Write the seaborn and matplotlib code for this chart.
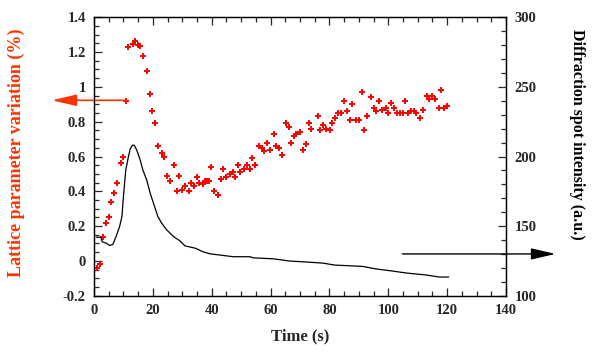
import matplotlib.pyplot as plt
import matplotlib.ticker as mticker
import pandas as pd
import seaborn as sns

# lattice parameter variation (%) vs time (s), red crosses, left axis
lattice_t = [
    1.0, 1.9, 2.9, 4.0, 5.1, 5.9, 6.8, 7.8, 9.1, 10.0, 10.9, 11.7, 13.1, 13.9,
    14.9, 15.7, 16.7, 18.0, 19.0, 19.8, 20.8, 21.7, 23.0, 23.9, 24.7, 25.8,
    27.2, 28.1, 29.0, 29.9, 30.8, 32.2, 33.1, 34.0, 34.9, 35.8, 37.1, 37.8,
    38.5, 39.2, 39.8, 40.8, 42.1, 43.0, 43.9, 44.8, 46.2, 47.1, 48.0, 48.9,
    49.7, 51.0, 51.9, 52.9, 53.7, 54.7, 56.1, 57.0, 57.9, 58.8, 59.7, 61.1,
    62.0, 62.9, 63.8, 65.2, 66.1, 67.0, 67.9, 68.8, 70.1, 71.0, 71.9, 72.9,
    73.7, 76.0, 76.9, 77.8, 78.7, 80.1, 81.0, 81.9, 82.8, 84.1, 85.1, 85.9,
    86.9, 87.8, 89.1, 90.0, 90.9, 91.8, 92.7, 94.1, 95.0, 95.9, 96.8, 97.7,
    99.1, 100.0, 100.9, 101.8, 103.1, 104.0, 104.9, 105.8, 106.8, 107.6,
    108.6, 109.5, 110.8, 111.7, 113.1, 114.0, 114.9, 115.8, 117.1, 118.0,
    118.9, 119.8,
]
lattice_v = [
    -0.04, -0.015, 0.14, 0.22, 0.25, 0.34, 0.39, 0.45, 0.56, 0.60, 0.92, 1.23,
    1.245, 1.263, 1.24, 1.233, 1.18, 1.09, 0.96, 0.86, 0.79, 0.66, 0.62, 0.60,
    0.49, 0.46, 0.55, 0.40, 0.49, 0.41, 0.43, 0.40, 0.445, 0.43, 0.48, 0.45,
    0.44, 0.46, 0.46, 0.46, 0.54, 0.40, 0.38, 0.47, 0.53, 0.48, 0.50, 0.51,
    0.48, 0.55, 0.51, 0.53, 0.55, 0.53, 0.59, 0.55, 0.66, 0.65, 0.63, 0.68,
    0.64, 0.73, 0.66, 0.65, 0.61, 0.79, 0.77, 0.68, 0.72, 0.73, 0.74, 0.64,
    0.67, 0.79, 0.76, 0.83, 0.75, 0.78, 0.76, 0.75, 0.79, 0.82, 0.85, 0.85,
    0.92, 0.86, 0.81, 0.90, 0.81, 0.81, 0.97, 0.75, 0.83, 0.94, 0.88, 0.86,
    0.92, 0.87, 0.88, 0.85, 0.91, 0.88, 0.85, 0.85, 0.85, 0.92, 0.85, 0.86,
    0.86, 0.85, 0.82, 0.87, 0.95, 0.93, 0.95, 0.93, 0.88, 0.98, 0.88, 0.89,
]

# diffraction spot intensity (a.u.), black line, right axis
spot_t = [
    0.8, 2.3, 2.8, 4.1, 5.3, 6.4, 7.5, 8.7, 9.5, 10.0, 10.8, 11.7, 12.3, 13.1,
    13.7, 14.5, 15.7, 16.6, 17.9, 19.1, 20.2, 21.7, 23.0, 24.7, 27.0, 29.2,
    30.9, 34.3, 37.1, 39.4, 42.8, 47.3, 53.0, 54.1, 60.9, 66.5, 72.2, 77.8,
    81.8, 86.9, 91.4, 95.9, 101.5, 106.1, 112.8, 117.4, 120.5,
]
spot_i = [
    142.0, 142.0, 138.7, 137.8, 136.1, 136.8, 142.5, 149.7, 156.9, 171.2,
    190.3, 199.9, 205.4, 208.2, 208.0, 204.7, 197.5, 190.3, 183.2, 173.6,
    166.5, 156.9, 152.1, 147.3, 142.5, 139.4, 135.8, 134.2, 131.5, 130.1,
    129.2, 128.0, 128.0, 127.2, 126.5, 124.9, 124.2, 123.4, 122.0, 121.5,
    121.0, 119.2, 117.7, 116.3, 114.9, 113.4, 113.4,
]

lattice = pd.DataFrame({"time": lattice_t, "variation": lattice_v})
spot = pd.DataFrame({"time": spot_t, "intensity": spot_i})

red = "#ff0000"
orange = "#ff3300"

sns.set_style("ticks")
plt.rcParams["font.family"] = ["Liberation Serif", "DejaVu Serif"]
plt.rcParams["font.weight"] = "bold"

fig = plt.figure(figsize=(5.94, 3.55), dpi=100)
ax = fig.add_axes([94 / 594, 1 - 295.7 / 355, 412 / 594, 278.4 / 355])
ax2 = ax.twinx()

sns.scatterplot(data=lattice, x="time", y="variation", ax=ax, marker="+",
                color=red, s=16, linewidth=1.4, zorder=3)
sns.lineplot(data=spot, x="time", y="intensity", ax=ax2, color="black",
             lw=0.9, sort=False)

ax.set_xlim(0, 140)
ax.set_ylim(-0.2, 1.4)
ax2.set_ylim(100, 300)

ax.xaxis.set_major_locator(mticker.MultipleLocator(20))
ax.xaxis.set_minor_locator(mticker.MultipleLocator(5))
ax.yaxis.set_major_locator(mticker.MultipleLocator(0.2))
ax.yaxis.set_minor_locator(mticker.MultipleLocator(0.05))
ax.yaxis.set_major_formatter(mticker.FormatStrFormatter("%g"))
ax2.yaxis.set_major_locator(mticker.MultipleLocator(50))
ax2.yaxis.set_minor_locator(mticker.MultipleLocator(10))

ax.tick_params(which="both", direction="in", top=True, right=False,
               labelsize=10.5, pad=6, width=0.9)
ax.tick_params(which="major", length=6)
ax.tick_params(which="minor", length=3.5)
ax2.tick_params(which="both", direction="in", labelsize=10.5, pad=6, width=0.9)
ax2.tick_params(which="major", length=6)
ax2.tick_params(which="minor", length=3.5)

for a in (ax, ax2):
    for s in a.spines.values():
        s.set_linewidth(0.9)
        s.set_color("black")

ax.set_xlabel("Time (s)", fontsize=12, fontweight="bold", labelpad=8)
ax.set_ylabel("")
ax2.set_ylabel("")
fig.text(16 / 594, 1 - 153 / 355, "Lattice parameter variation (%)",
         rotation=90, ha="center", va="center", color=orange, fontsize=13,
         fontweight="bold")
fig.text(577 / 594, 1 - 134 / 355, "Diffraction spot intensity (a.u.)",
         rotation=270, ha="center", va="center", color="black", fontsize=11.5,
         fontweight="bold")

ax.annotate("", xy=(-14.3, 0.923), xytext=(11.1, 0.923), annotation_clip=False,
            arrowprops=dict(arrowstyle="-|>,head_length=1.5,head_width=0.35",
                            mutation_scale=10, color=orange, lw=1.2,
                            shrinkA=0, shrinkB=0))
ax2.annotate("", xy=(156.8, 130), xytext=(104.8, 130), annotation_clip=False,
             arrowprops=dict(arrowstyle="-|>,head_length=1.5,head_width=0.35",
                             mutation_scale=10, color="black", lw=1.0,
                             shrinkA=0, shrinkB=0))

fig.savefig("out.png", dpi=100)
